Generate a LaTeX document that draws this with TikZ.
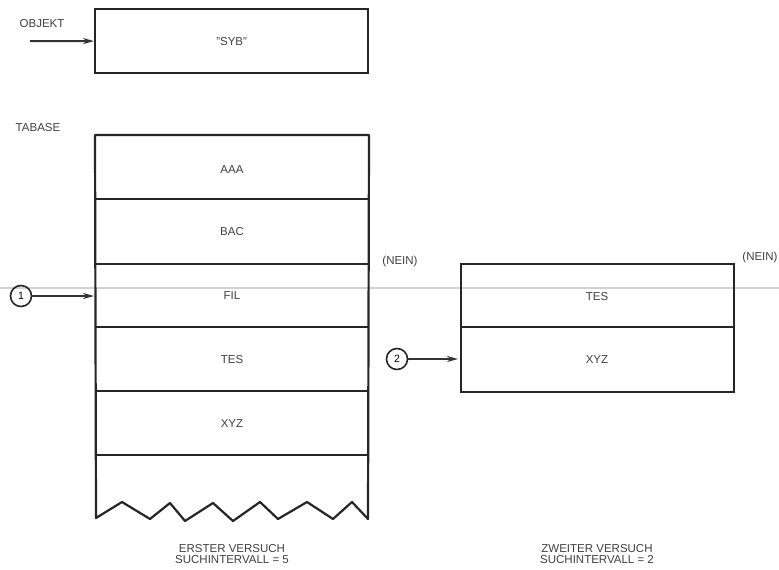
\documentclass[tikz,border=0pt]{standalone}
\usepackage{fontspec}
\setmainfont{Liberation Sans}
\usetikzlibrary{arrows.meta}
\begin{document}
\begin{tikzpicture}[x=1pt,y=-1pt,
  box/.style={draw=black!85,line width=2.2pt},
  sep/.style={draw=black!85,line width=2pt},
  lbl/.style={font=\fontsize{11.5}{12}\selectfont,text=black!75,inner sep=0pt},
  captxt/.style={font=\fontsize{11.5}{11.5}\selectfont,text=black!75,align=center,inner sep=0pt},
  ptr/.style={draw=black!80,line width=2pt,-{Stealth[length=11pt,width=6pt]}},
  num/.style={circle,draw=black!85,line width=1.6pt,minimum size=21pt,inner sep=0pt,font=\fontsize{10.5}{11}\selectfont}]
\useasboundingbox (0,0) rectangle (779,570);
\fill[white] (0,0) rectangle (779,570);
% scan line
\draw[black!18,line width=2pt] (0,288) -- (779,288);

% OBJEKT
\node[box,minimum width=273pt,minimum height=64pt,inner sep=0pt,anchor=north west] (obj) at (94,8) {};
\node[lbl] (syb) at (obj.center) {"SYB"};
\node[lbl] (objlbl) at (42,24) {OBJEKT};
\coordinate (objin) at (30,41);
\draw[ptr] (objin) -- (obj.west);

% TABASE
\node[lbl] (tab) at (38,128) {TABASE};
\coordinate (tl) at (95,135);
\coordinate (tr) at (369,135);
\coordinate (bl) at (96,518);
\coordinate (br) at (368,519);
\draw[box,line join=round] (bl) -- (tl) -- (tr) -- (br) -- (352,502) -- (333,519) -- (307,502) -- (278,519) -- (260,502) -- (233,521) -- (213,503) -- (185,521) -- (170,503) -- (150,519) -- (122,502) -- cycle;
\foreach \yy in {199,264,327,391,455} \draw[sep] (95,\yy) -- (369,\yy);
\node[lbl] (aaa) at (232,170) {AAA};
\node[lbl] (bac) at (232,232) {BAC};
\node[lbl] (fil) at (232,296) {FIL};
\node[lbl] (tes1) at (232,360) {TES};
\node[lbl] (xyz1) at (232,424) {XYZ};
\coordinate (filin) at (94,296);
\node[num] (n1) at (21,296) {1};
\draw[ptr] (n1) -- (filin);

\node[lbl] (nein1) at (400,262) {(NEIN)};

% second
\node[box,minimum width=273pt,minimum height=128pt,inner sep=0pt,anchor=north west] (sec) at (460,263) {};
\draw[sep] (460,327) -- (733,327);
\node[lbl] (tes2) at (597,297) {TES};
\node[lbl] (xyz2) at (597,360) {XYZ};
\node[lbl] (nein2) at (760,258) {(NEIN)};
\coordinate (xyzin) at (458,359);
\node[num] (n2) at (397,359) {2};
\draw[ptr] (n2) -- (xyzin);

\node[captxt] (c1) at (232,554) {ERSTER VERSUCH\\SUCHINTERVALL = 5};
\node[captxt] (c2) at (597,554) {ZWEITER VERSUCH\\SUCHINTERVALL = 2};
\end{tikzpicture}
\end{document}
